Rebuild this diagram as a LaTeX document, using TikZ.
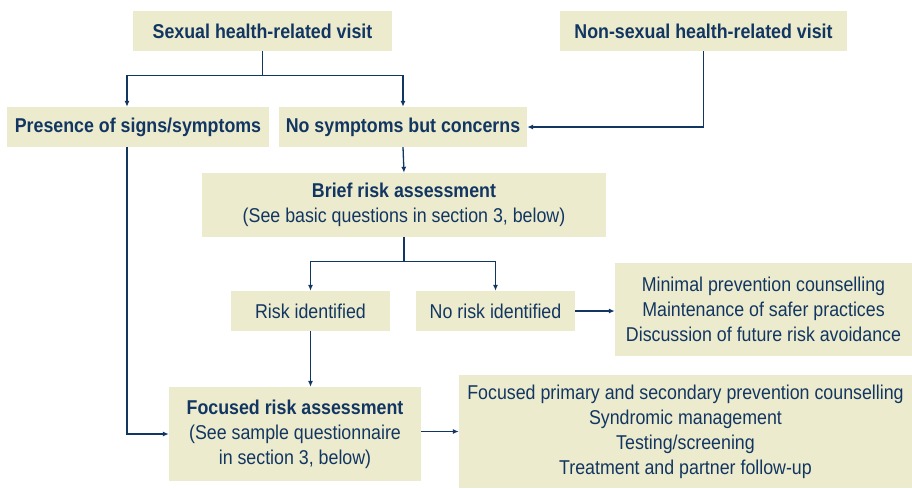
\documentclass[tikz,border=0pt]{standalone}
\usepackage{fontspec}
\setmainfont{Liberation Sans}[FakeStretch=0.89]
\usetikzlibrary{arrows.meta}

\definecolor{boxfill}{RGB}{237,235,205}
\definecolor{navy}{RGB}{18,54,98}

\tikzset{
  stagebox/.style={fill=boxfill, text=navy, inner sep=0pt, align=center,
    font=\fontsize{20}{25}\selectfont},
  flow/.style={draw=navy, line width=1.3pt, -{Latex[length=6pt,width=5pt]}},
  link/.style={draw=navy, line width=1.3pt}
}

\begin{document}
\begin{tikzpicture}[x=1pt, y=-1pt]
    \useasboundingbox (0,0) rectangle (912,488);

    \node [stagebox, minimum width=259, minimum height=40] (sex) at (262.5,31) {\bfseries Sexual health-related visit};
    \node [stagebox, minimum width=287, minimum height=40] (nonsex) at (703.5,31) {\bfseries Non-sexual health-related visit};

    \node [stagebox, minimum width=262, minimum height=40] (pres) at (138,127) {\bfseries Presence of signs/symptoms};
    \node [stagebox, minimum width=248, minimum height=40] (nosym) at (403,127) {\bfseries No symptoms but concerns};

    \node [stagebox, minimum width=404, minimum height=64] (brief) at (404,205) {{\bfseries Brief risk assessment}\\(See basic questions in section 3, below)};

    \node [stagebox, minimum width=159, minimum height=40] (risk) at (310.5,311) {Risk identified};
    \node [stagebox, minimum width=159, minimum height=40] (norisk) at (495.5,311) {No risk identified};
    \node [stagebox, minimum width=297, minimum height=93] (minimal) at (763.5,309.5) {Minimal prevention counselling\\Maintenance of safer practices\\Discussion of future risk avoidance};

    \node [stagebox, minimum width=252, minimum height=94] (focus) at (295,434) {{\bfseries Focused risk assessment}\\(See sample questionnaire\\in section 3, below)};
    \node [stagebox, minimum width=453, minimum height=113] (care) at (685.5,431.5) {Focused primary and secondary prevention counselling\\Syndromic management\\Testing/screening\\Treatment and partner follow-up};

    % top split
    \draw [flow] (sex.south) -- ++(0,24) -| ([xshift=-11]pres.north);
    \draw [flow] (sex.south) -- ++(0,24) -| (nosym.north);
    \draw [flow] (nonsex.south) |- (nosym.east);

    \draw [flow] (nosym.south) -- (brief.north);
    \draw [flow] ([xshift=-11]pres.south) |- (focus.west);

    % brief split
    \draw [flow] (brief.south) -- ++(0,24) -| (risk.north);
    \draw [flow] (brief.south) -- ++(0,24) -| (norisk.north);

    \draw [flow] (norisk.east) -- (norisk.east -| minimal.west);
    \draw [flow] (risk.south) -- (risk.south |- focus.north);
    \draw [flow] (care.west -| focus.east) -- (care.west);
  \end{tikzpicture}
\end{document}
